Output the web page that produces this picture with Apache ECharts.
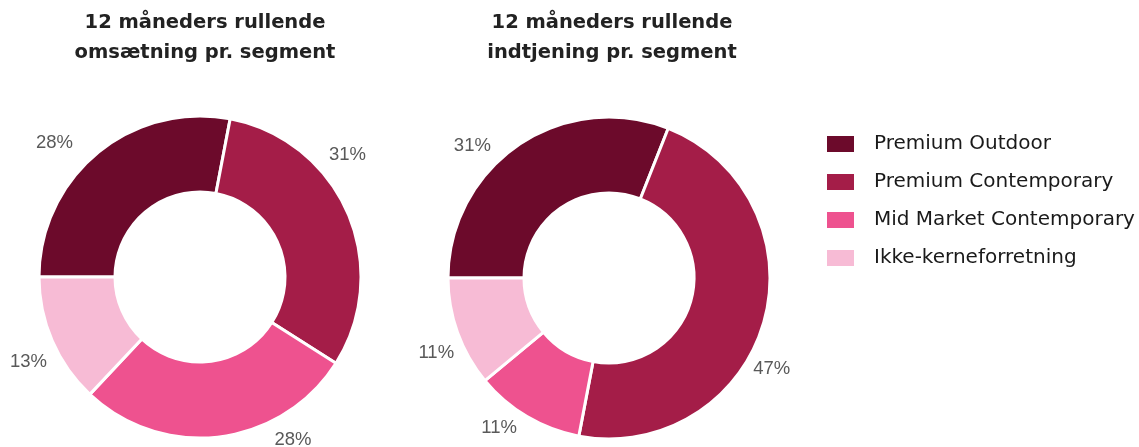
<!DOCTYPE html>
<html>
<head>
<meta charset="utf-8">
<script src="https://cdn.jsdelivr.net/npm/echarts@6/dist/echarts.min.js"></script>
<style>
  html, body { margin: 0; padding: 0; background: #fff; }
  #chart { width: 1139px; height: 447px; }
</style>
</head>
<body>
<div id="chart"></div>
<script>
// segmenter (samme rækkefølge i begge diagrammer)
var segments = ['Premium Outdoor', 'Premium Contemporary', 'Mid Market Contemporary', 'Ikke-kerneforretning'];
var segmentColors = ['#6c0a2b', '#a41d48', '#ee528f', '#f7bbd5'];

// 12 måneders rullende omsætning pr. segment (%)
var omsaetning = [28, 31, 28, 13];
// 12 måneders rullende indtjening pr. segment (%)
var indtjening = [31, 47, 11, 11];

var titles = ['12 måneders rullende\nomsætning pr. segment', '12 måneders rullende\nindtjening pr. segment'];

// små skub af procent-labels, så de står som i originalen
var nudgeLeft = [[-13, -2], [-33, -54], [48, -7], [9, 17]];
var nudgeRight = [[-17, 9], [-25, 43], [0, 3], [11, 17]];

var chart = echarts.init(document.getElementById('chart'));

function buildData(values) {
    return values.map(function (v, i) {
        return { name: segments[i], value: v, itemStyle: { color: segmentColors[i] } };
    });
}

function pieSeries(values, center, nudge) {
    return {
        type: 'pie',
        center: center,
        radius: [85, 161],
        startAngle: 180,
        clockwise: true,
        avoidLabelOverlap: false,
        animation: false,
        silent: true,
        itemStyle: { borderColor: '#fff', borderWidth: 3 },
        label: {
            show: true,
            position: 'outside',
            formatter: '{c}%',
            color: '#595959',
            fontFamily: 'Liberation Sans',
            fontSize: 18.5,
            distanceToLabelLine: 5
        },
        labelLine: { show: false, length: 10, length2: 0 },
        labelLayout: function (p) {
            var n = nudge[p.dataIndex];
            return { dx: n[0], dy: n[1] };
        },
        data: buildData(values)
    };
}

var titleStyle = {
    fontFamily: 'DejaVu Sans',
    fontWeight: 'bold',
    fontSize: 19.5,
    lineHeight: 30,
    color: '#222'
};

chart.setOption({
    backgroundColor: '#fff',
    title: [
        { text: titles[0], left: 200, top: 3, textAlign: 'center', textStyle: titleStyle },
        { text: titles[1], left: 607, top: 3, textAlign: 'center', textStyle: titleStyle }
    ],
    legend: {
        orient: 'vertical',
        left: 825,
        top: 134,
        padding: 0,
        icon: 'rect',
        itemWidth: 29,
        itemHeight: 18,
        itemGap: 18,
        selectedMode: false,
        data: segments,
        textStyle: {
            fontFamily: 'DejaVu Sans',
            fontSize: 20,
            lineHeight: 20,
            color: '#1a1a1a',
            padding: [0, 0, 0, 14]
        }
    },
    series: [
        pieSeries(omsaetning, [200, 277], nudgeLeft),
        pieSeries(indtjening, [609, 278], nudgeRight)
    ]
});
</script>
</body>
</html>
